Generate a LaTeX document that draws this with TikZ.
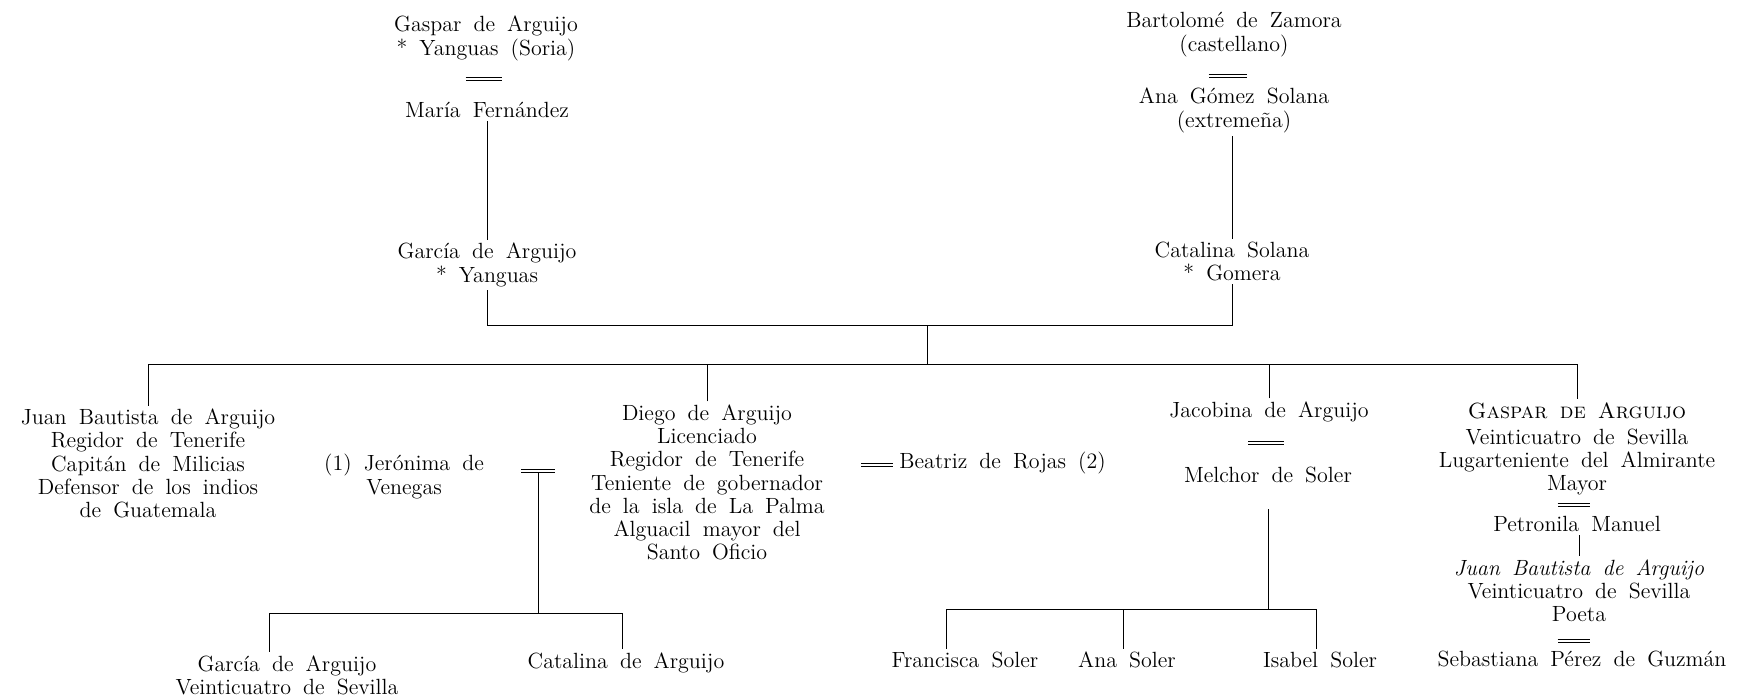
\documentclass[tikz,border=0pt]{standalone}
\usepackage{fontspec}
\usetikzlibrary{positioning}
\newcommand{\famfont}{\fontsize{11}{11.6}\selectfont\spaceskip=0.55em plus 0.2em minus 0.1em\relax}
\tikzset{
  person/.style={
    % The shape: plain text, no frame
    align=center,
    inner sep=1.5pt,
    % Font
    font=\famfont
  },
  wedbar/.style={
    % an empty slot for the marriage sign
    inner sep=0pt, minimum height=2pt, minimum width=#1
  },
  wed/.style={
    % The double stroke between spouses
    double, double distance=1.1pt, line width=0.4pt
  },
  kin/.style={line width=0.5pt}
}

\begin{document}
\begin{tikzpicture}[x=0.5pt,y=-0.5pt]
  \useasboundingbox (0,0) rectangle (1740,695);

  % first generation
  \node (gaspar)    [person] at (486,38.5)  {Gaspar de Arguijo\\{*} Yanguas (Soria)};
  \node (w1)        [wedbar=18pt] at (484,79) {};
  \node (maria)     [person] at (487,110)   {María Fernández};
  \node (bartolome) [person] at (1234,34.5) {Bartolomé de Zamora\\(castellano)};
  \node (w2)        [wedbar=19pt] at (1228,76) {};
  \node (ana)       [person] at (1234,110.5) {Ana Gómez Solana\\(extremeña)};

  % second generation
  \node (garcia)    [person] at (487,265)   {García de Arguijo\\{*} Yanguas};
  \node (catalina)  [person] at (1232,261.5) {Catalina Solana\\{*} Gomera};

  % children
  \node (juan)      [person] at (148,463.5) {Juan Bautista de Arguijo\\Regidor de Tenerife\\Capitán de Milicias\\Defensor de los indios\\de Guatemala};
  \node (jeronima)  [person] at (404,476.5) {(1) Jerónima de\\Venegas};
  \node (w3)        [wedbar=16.5pt] at (538,471) {};
  \node (diego)     [person] at (707,482.5) {Diego de Arguijo\\Licenciado\\Regidor de Tenerife\\Teniente de gobernador\\de la isla de La Palma\\Alguacil mayor del\\Santo Oficio};
  \node (w4)        [wedbar=15.5pt] at (877,465) {};
  \node (beatriz)   [person,anchor=west] at (896,463) {Beatriz de Rojas (2)};
  \node (jacobina)  [person] at (1269,412)  {Jacobina de Arguijo};
  \node (w5)        [wedbar=17.5pt] at (1266,443) {};
  \node (melchor)   [person] at (1268,475)  {Melchor de Soler};
  \node (gaspar2)   [person] at (1577,449)  {\textsc{Gaspar de Arguijo}\\[1.5pt]Veinticuatro de Sevilla\\Lugarteniente del Almirante\\Mayor};
  \node (w6)        [wedbar=16pt] at (1574,505) {};
  \node (petronila) [person] at (1577,524)  {Petronila Manuel};
  \node (juanb)     [person] at (1579,591)  {\textit{Juan Bautista de Arguijo}\\Veinticuatro de Sevilla\\Poeta};
  \node (w7)        [wedbar=16pt] at (1574,641) {};
  \node (sebastiana)[person] at (1582,659)  {Sebastiana Pérez de Guzmán};

  % grandchildren
  \node (garcia2)   [person] at (287,675)   {García de Arguijo\\Veinticuatro de Sevilla};
  \node (catalina2) [person] at (626,663)   {Catalina de Arguijo};
  \node (francisca) [person] at (965,660)   {Francisca Soler};
  \node (ana2)      [person] at (1127,660)  {Ana Soler};
  \node (isabel)    [person] at (1320,660)  {Isabel Soler};

  % joints of the family lines
  \coordinate (up)  at (927,325);
  \coordinate (low) at (927,364);
  \coordinate (d1)  at (269,613);
  \coordinate (d2)  at (622,613);
  \coordinate (s1)  at (946,609);
  \coordinate (s2)  at (1123,609);
  \coordinate (s3)  at (1316,609);

  \draw[kin] (maria.south) -- (garcia.north);
  \draw[kin] (catalina.north |- ana.south) -- (catalina.north);
  \draw[kin] (garcia.south) -- (garcia.south |- up) -- (catalina.south |- up) -- (catalina.south);
  \draw[kin] (up) -- (low);
  \draw[kin] (juan.north) -- (juan.north |- low) -- (gaspar2.north |- low) -- (gaspar2.north);
  \draw[kin] (diego.north) -- (diego.north |- low);
  \draw[kin] (jacobina.north) -- (jacobina.north |- low);
  \draw[kin] (juanb.north |- petronila.south) -- (juanb.north);

  \draw[kin] (w3.south) -- (w3.south |- d1);
  \draw[kin] (garcia2.north -| d1) -- (d1) -- (d2) -- (catalina2.north -| d2);

  \draw[kin,shorten <=11.5pt] (melchor.south) -- (melchor.south |- s1);
  \draw[kin] (francisca.north -| s1) -- (s1) -- (s3) -- (isabel.north -| s3);
  \draw[kin] (s2) -- (ana2.north -| s2);

  % marriage signs
  \foreach \w in {w1,w2,w3,w4,w5,w6,w7}
    \draw[wed] (\w.west) -- (\w.east);
\end{tikzpicture}
\end{document}
